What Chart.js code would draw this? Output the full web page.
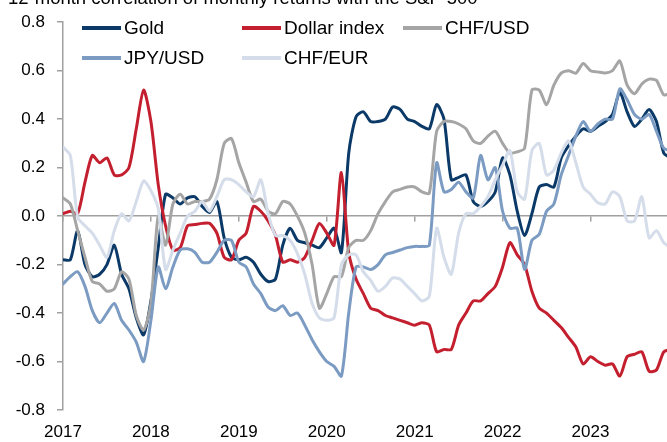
<!DOCTYPE html>
<html>
<head>
<meta charset="utf-8">
<script src="https://cdn.jsdelivr.net/npm/chart.js@4.4.0/dist/chart.umd.min.js"></script>
<style>
  html, body { margin: 0; padding: 0; background: #fff; }
  #wrap { position: relative; width: 667px; height: 442px; overflow: hidden; font-family: "Liberation Sans", Arial, sans-serif; }
  #title { position: absolute; left: 8px; top: -11px; font-size: 18.5px; line-height: 18px; color: #000; white-space: nowrap; }
  .leg { position: absolute; height: 20px; font-size: 19px; line-height: 20px; color: #000; white-space: nowrap; }
  .leg .swatch { display: inline-block; width: 39px; height: 4px; vertical-align: middle; margin-right: 3px; position: relative; top: -1px; }
  canvas { position: absolute; left: 0; top: 0; }
</style>
</head>
<body>
<div id="wrap">
  <canvas id="chart" width="667" height="442"></canvas>
  <div id="title">12-month correlation of monthly returns with the S&amp;P 500</div>
  <div id="legend"></div>
</div>
<script>
// monthly points, Jan 2017 .. Dec 2023 (decimal years)
const months = [];
for (let i = 0; i < 84; i++) months.push(2017 + i / 12);

const yearTicks = [2017, 2018, 2019, 2020, 2021, 2022, 2023];
const seriesNames = ['Gold', 'Dollar index', 'CHF/USD', 'JPY/USD', 'CHF/EUR'];
const seriesColors = ['#0c3a68', '#c41f2f', '#a5a5a5', '#7b9bc2', '#d4dde9'];

const gold = [
  -0.18, -0.18, -0.06, -0.20, -0.25, -0.24, -0.20, -0.12, -0.24, -0.30, -0.42, -0.49,
  -0.35, -0.13, 0.09, 0.075, 0.05, 0.075, 0.08, 0.04, 0.015, 0.06, -0.09, -0.17,
  -0.18, -0.17, -0.19, -0.24, -0.27, -0.26, -0.12, -0.05, -0.10, -0.11, -0.12, -0.13,
  -0.09, -0.05, -0.15, 0.26, 0.41, 0.43, 0.39, 0.39, 0.40, 0.45, 0.44, 0.40,
  0.39, 0.37, 0.36, 0.46, 0.40, 0.15, 0.16, 0.17, 0.06, 0.04, 0.06, 0.10,
  0.24, 0.17, 0.02, -0.08, 0.01, 0.12, 0.13, 0.12, 0.24, 0.29, 0.33, 0.36,
  0.35, 0.37, 0.39, 0.42, 0.51, 0.43, 0.37, 0.40, 0.44, 0.39, 0.26, 0.24
];
const dollar = [
  0.01, 0.02, 0.01, 0.14, 0.25, 0.22, 0.24, 0.17, 0.17, 0.20, 0.36, 0.52,
  0.39, 0.13, -0.04, -0.14, -0.13, -0.04, -0.035, -0.03, -0.03, -0.07, -0.17, -0.18,
  -0.10, -0.07, 0.04, 0.02, -0.02, -0.08, -0.19, -0.18, -0.19, -0.17, -0.10, -0.03,
  -0.07, -0.12, 0.18, -0.15, -0.26, -0.32, -0.38, -0.39, -0.41, -0.42, -0.43, -0.44,
  -0.45, -0.44, -0.45, -0.56, -0.55, -0.55, -0.45, -0.40, -0.35, -0.35, -0.32, -0.29,
  -0.21, -0.11, -0.16, -0.20, -0.31, -0.38, -0.40, -0.43, -0.46, -0.50, -0.54, -0.61,
  -0.58, -0.60, -0.615, -0.61, -0.66, -0.58, -0.57, -0.56, -0.64, -0.635, -0.56, -0.55
];
const chfUsd = [
  0.075, 0.05, -0.06, -0.17, -0.27, -0.28, -0.31, -0.30, -0.23, -0.26, -0.41, -0.47,
  -0.36, 0.0, -0.12, 0.05, 0.09, 0.05, 0.06, 0.06, 0.07, 0.15, 0.30, 0.32,
  0.22, 0.14, 0.06, 0.07, 0.02, 0.01, 0.06, 0.05, 0.00, -0.07, -0.20, -0.38,
  -0.32, -0.25, -0.25, -0.13, -0.10, -0.10, -0.06, 0.01, 0.06, 0.10, 0.11, 0.12,
  0.12, 0.10, 0.095, 0.35, 0.39, 0.39, 0.38, 0.36, 0.31, 0.30, 0.33, 0.35,
  0.30, 0.26, 0.265, 0.28, 0.52, 0.52, 0.46, 0.54, 0.59, 0.60, 0.59, 0.63,
  0.60, 0.595, 0.59, 0.60, 0.64, 0.54, 0.505, 0.545, 0.565, 0.56, 0.50, 0.51
];
const jpyUsd = [
  -0.28, -0.25, -0.23, -0.29, -0.39, -0.44, -0.40, -0.36, -0.43, -0.47, -0.52, -0.60,
  -0.43, -0.21, -0.30, -0.21, -0.14, -0.135, -0.15, -0.19, -0.19, -0.15, -0.10, -0.10,
  -0.19, -0.21, -0.28, -0.32, -0.375, -0.39, -0.37, -0.41, -0.40, -0.45, -0.51, -0.56,
  -0.60, -0.62, -0.66, -0.40, -0.21, -0.21, -0.22, -0.20, -0.16, -0.15, -0.14, -0.13,
  -0.125, -0.125, -0.12, 0.22, 0.10, 0.11, 0.14, 0.10, 0.075, 0.25, 0.15, 0.20,
  0.02, -0.05, -0.05, -0.22, -0.10, -0.075, 0.02, 0.05, 0.17, 0.25, 0.33, 0.39,
  0.35, 0.38, 0.40, 0.40, 0.525, 0.48, 0.42, 0.40, 0.42, 0.35, 0.28, 0.27
];
const chfEur = [
  0.285, 0.25, -0.005, -0.04, -0.07, -0.12, -0.17, -0.06, 0.01, -0.02, 0.06, 0.145,
  0.105, 0.03, -0.22, -0.14, -0.07, 0.0, 0.02, 0.06, 0.02, 0.08, 0.15, 0.15,
  0.13, 0.10, 0.08, 0.15, 0.01, -0.08, -0.08, -0.10, -0.155, -0.24, -0.36, -0.42,
  -0.43, -0.42, -0.20, -0.16, -0.16, -0.23, -0.265, -0.31, -0.29, -0.255, -0.26, -0.29,
  -0.32, -0.35, -0.33, -0.05, -0.17, -0.24, -0.07, 0.01, 0.01, 0.04, 0.08, 0.15,
  0.21, 0.27, 0.10, 0.07, 0.27, 0.30, 0.17, 0.19, 0.26, 0.31, 0.22, 0.12,
  0.09, 0.055, 0.05, 0.10, 0.08, -0.02, -0.02, 0.08, -0.09, -0.06, -0.11, -0.13
];
const seriesData = [gold, dollar, chfUsd, jpyUsd, chfEur];

// legend (two rows, fixed columns like the original)
const legCols = [82, 242, 403];
const legRows = [28, 58];
const legPos = [[0, 0], [1, 0], [2, 0], [0, 1], [1, 1]];
const legend = document.getElementById('legend');
seriesNames.forEach(function (name, i) {
  const d = document.createElement('div');
  d.className = 'leg';
  d.style.left = legCols[legPos[i][0]] + 'px';
  d.style.top = (legRows[legPos[i][1]] - 10) + 'px';
  d.innerHTML = '<span class="swatch" style="background:' + seriesColors[i] + '"></span>' + name;
  legend.appendChild(d);
});

const axisGrey = '#a0a0a0';
const tickFont = { family: '"Liberation Sans", Arial, sans-serif', size: 17 };

var ctx = document.getElementById('chart').getContext('2d');
var chart = new Chart(ctx, {
  type: 'line',
  data: {
    labels: months,
    datasets: seriesNames.map(function (name, i) {
      return {
        label: name,
        data: seriesData[i],
        borderColor: seriesColors[i],
        backgroundColor: seriesColors[i],
        borderWidth: 3,
        pointRadius: 0,
        tension: 0.25,
        borderJoinStyle: 'round',
        borderCapStyle: 'round',
        fill: false,
        order: seriesNames.length - i, // later series on top, like the source
      };
    }),
  },
  options: {
    responsive: false,
    animation: false,
    devicePixelRatio: 1,
    layout: { padding: { top: 20, right: 0, bottom: 0, left: 0 } },
    plugins: {
      legend: { display: false },
      tooltip: { enabled: false },
      title: { display: false },
    },
    scales: {
      x: {
        type: 'linear',
        min: 2017,
        max: 2023.87,
        position: { y: 0 },
        afterFit: function (scale) { scale.height = 0; },
        border: { display: true, color: axisGrey, width: 1.5 },
        grid: { drawOnChartArea: false, drawTicks: true, tickLength: 5, color: axisGrey, lineWidth: 1.5 },
        ticks: { display: false, stepSize: 1, includeBounds: false },
      },
      x2: {
        type: 'linear',
        axis: 'x',
        position: 'bottom',
        min: 2017,
        max: 2023.87,
        afterFit: function (scale) { scale.height = 32; },
        border: { display: false },
        grid: { display: false, drawTicks: false },
        afterBuildTicks: function (scale) {
          scale.ticks = yearTicks.map(function (v) { return { value: v }; });
        },
        ticks: {
          color: '#000',
          font: tickFont,
          padding: 12,
          maxRotation: 0,
          autoSkip: false,
          callback: function (v) { return String(v); },
        },
      },
      y: {
        min: -0.8,
        max: 0.8,
        position: 'left',
        afterFit: function (scale) { scale.width = 63; },
        border: { display: true, color: axisGrey, width: 1.5 },
        grid: { drawOnChartArea: false, drawTicks: true, tickLength: 6, color: axisGrey, lineWidth: 1.5 },
        ticks: {
          stepSize: 0.2,
          color: '#000',
          font: tickFont,
          padding: 12,
          callback: function (v) { return Number(v).toFixed(1); },
        },
      },
    },
  },
});
</script>
</body>
</html>
